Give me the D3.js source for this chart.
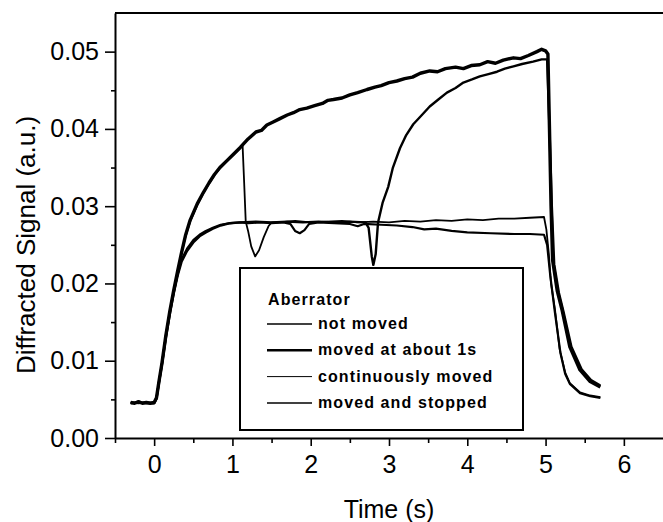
<!DOCTYPE html>
<html>
<head>
<meta charset="utf-8">
<script src="https://cdn.jsdelivr.net/npm/d3@7"></script>
<style>
  body { margin: 0; background: #fff; }
  text { font-family: 'Liberation Sans', Arial, sans-serif; fill: #000; }
</style>
</head>
<body>
<div id="chart"></div>
<script>
// values, [time (s), signal (a.u.)]
let notMoved = [
  [-0.3, 0.0046], [-0.25, 0.0045], [-0.2, 0.0047], [-0.15, 0.0045], [-0.1, 0.0046], [-0.05, 0.0045],
  [0, 0.0046], [0.03, 0.0052], [0.06, 0.0072], [0.1, 0.0097], [0.15, 0.0133], [0.2, 0.0164],
  [0.25, 0.0191], [0.3, 0.0216], [0.35, 0.024], [0.4, 0.0262], [0.46, 0.0282], [0.55, 0.0303],
  [0.63, 0.0318], [0.7, 0.033], [0.77, 0.0341], [0.84, 0.035], [0.92, 0.0358], [1.0, 0.0366],
  [1.1, 0.0376], [1.2, 0.0387], [1.3, 0.0396], [1.37, 0.0398], [1.44, 0.0405], [1.52, 0.0409],
  [1.6, 0.0413], [1.7, 0.0418], [1.78, 0.0421], [1.86, 0.0425], [1.95, 0.0427], [2.05, 0.043],
  [2.15, 0.0433], [2.22, 0.0437], [2.29, 0.0438], [2.4, 0.044], [2.5, 0.0444], [2.6, 0.0447],
  [2.72, 0.0451], [2.82, 0.0454], [2.9, 0.0456], [3.0, 0.046], [3.1, 0.0462], [3.2, 0.0465],
  [3.3, 0.0467], [3.4, 0.0472], [3.52, 0.0475], [3.62, 0.0474], [3.72, 0.0478], [3.85, 0.048],
  [3.95, 0.0478], [4.05, 0.0482], [4.16, 0.0483], [4.26, 0.0487], [4.36, 0.0485], [4.46, 0.0489],
  [4.59, 0.0492], [4.68, 0.0491], [4.78, 0.0495], [4.89, 0.05], [4.95, 0.0503], [5.0, 0.0501],
  [5.03, 0.0497], [5.05, 0.04], [5.07, 0.03], [5.09, 0.023], [5.15, 0.019], [5.21, 0.0166],
  [5.31, 0.0118], [5.44, 0.0088], [5.57, 0.0073], [5.7, 0.0066]
]

let movedAt1s = [
  [-0.3, 0.0045], [-0.2, 0.0046], [-0.1, 0.0045], [0, 0.0046], [0.03, 0.0053], [0.06, 0.0073],
  [0.1, 0.0098], [0.15, 0.0134], [0.2, 0.0164], [0.25, 0.0191], [0.3, 0.0215], [0.35, 0.0239],
  [0.4, 0.026], [0.46, 0.028], [0.55, 0.0301], [0.63, 0.0317], [0.7, 0.0329], [0.77, 0.034],
  [0.84, 0.0349], [0.92, 0.0357], [1.0, 0.0365], [1.1, 0.0375], [1.13, 0.0378], [1.15, 0.033],
  [1.17, 0.028], [1.2, 0.0268], [1.24, 0.0248], [1.29, 0.0235], [1.34, 0.0243], [1.4, 0.026],
  [1.46, 0.0274], [1.5, 0.0279], [1.6, 0.0279], [1.8, 0.0281], [2.0, 0.0279], [2.2, 0.028],
  [2.4, 0.0281], [2.6, 0.0279], [2.8, 0.028], [3.0, 0.0279], [3.2, 0.0281], [3.4, 0.028],
  [3.6, 0.0282], [3.8, 0.0281], [4.0, 0.0283], [4.2, 0.0282], [4.4, 0.0284], [4.6, 0.0284],
  [4.8, 0.0285], [4.98, 0.0286], [5.01, 0.027], [5.04, 0.024], [5.07, 0.02], [5.12, 0.0166],
  [5.18, 0.0115], [5.25, 0.0085], [5.31, 0.0071], [5.44, 0.0059], [5.57, 0.0055], [5.7, 0.0053]
]

let continuouslyMoved = [
  [-0.3, 0.0046], [-0.2, 0.0045], [-0.1, 0.0046], [0, 0.0045], [0.03, 0.0051], [0.06, 0.0071],
  [0.1, 0.0096], [0.15, 0.0131], [0.2, 0.0162], [0.25, 0.0189], [0.3, 0.0212], [0.35, 0.0231],
  [0.42, 0.0245], [0.5, 0.0256], [0.58, 0.0263], [0.66, 0.0268], [0.75, 0.0272], [0.85, 0.0276],
  [0.97, 0.0278], [1.1, 0.0279], [1.2, 0.0278], [1.35, 0.0279], [1.5, 0.0278], [1.65, 0.0279],
  [1.74, 0.0277], [1.8, 0.0268], [1.86, 0.0265], [1.92, 0.0269], [1.98, 0.0277], [2.1, 0.0279],
  [2.3, 0.0278], [2.5, 0.0277], [2.6, 0.0274], [2.68, 0.0277], [2.9, 0.0276], [3.1, 0.0275],
  [3.3, 0.0273], [3.45, 0.027], [3.6, 0.0271], [3.8, 0.0268], [4.0, 0.0266], [4.3, 0.0265],
  [4.6, 0.0264], [4.8, 0.0264], [4.98, 0.0263], [5.02, 0.025], [5.06, 0.021], [5.12, 0.0162],
  [5.19, 0.011], [5.25, 0.0083], [5.31, 0.007], [5.44, 0.0058], [5.57, 0.0054], [5.7, 0.0052]
]

let movedAndStopped = [
  [-0.3, 0.0045], [-0.2, 0.0046], [-0.1, 0.0045], [0, 0.0045], [0.03, 0.0051], [0.06, 0.007],
  [0.1, 0.0095], [0.15, 0.013], [0.2, 0.016], [0.25, 0.0187], [0.3, 0.021], [0.35, 0.0228],
  [0.42, 0.0242], [0.5, 0.0253], [0.58, 0.0261], [0.66, 0.0266], [0.75, 0.0271], [0.85, 0.0275],
  [0.97, 0.0278], [1.1, 0.0279], [1.3, 0.028], [1.5, 0.0279], [1.7, 0.028], [1.9, 0.0279],
  [2.1, 0.028], [2.3, 0.0279], [2.5, 0.028], [2.7, 0.0279], [2.74, 0.0272], [2.78, 0.0235],
  [2.8, 0.0224], [2.83, 0.0238], [2.86, 0.0279], [2.92, 0.0305], [2.99, 0.0325], [3.05, 0.035],
  [3.14, 0.0375], [3.22, 0.0392], [3.31, 0.0406], [3.42, 0.0418], [3.52, 0.0429], [3.63, 0.0438],
  [3.74, 0.0447], [3.85, 0.0453], [3.95, 0.046], [4.06, 0.0464], [4.16, 0.0468], [4.27, 0.0471],
  [4.38, 0.0474], [4.48, 0.0478], [4.59, 0.0481], [4.7, 0.0484], [4.84, 0.0487], [4.95, 0.049],
  [5.02, 0.049], [5.05, 0.04], [5.08, 0.03], [5.11, 0.0225], [5.17, 0.0188], [5.23, 0.0163],
  [5.33, 0.0118], [5.46, 0.0089], [5.58, 0.0075], [5.7, 0.0068]
]

let seriesNames = ['not moved', 'moved at about 1s', 'continuously moved', 'moved and stopped']
let seriesData = [notMoved, movedAt1s, continuouslyMoved, movedAndStopped]
let seriesWidths = [3.4, 1.8, 2.2, 2.4]
let legendWidths = [1.5, 2.5, 1, 1.5]

let xTicks = [0, 1, 2, 3, 4, 5, 6]
let xMinorTicks = [-0.5, 0.5, 1.5, 2.5, 3.5, 4.5, 5.5]
let yTicks = [0, 0.01, 0.02, 0.03, 0.04, 0.05]
let yMinorTicks = [0.005, 0.015, 0.025, 0.035, 0.045]

let margin = { top: 13, left: 115, right: 0, bottom: 84 }
let width = 663 - margin.left - margin.right
let height = 522 - margin.top - margin.bottom

let svg = d3
  .select('#chart')
  .append('svg')
  .attr('width', width + margin.left + margin.right)
  .attr('height', height + margin.top + margin.bottom)
  .append('g')
  .attr('transform', 'translate(' + margin.left + ',' + margin.top + ')')

let x = d3.scaleLinear().domain([-0.5, 6.5]).range([0, width])
let y = d3.scaleLinear().domain([0, 0.055]).range([height, 0])

let line = d3
  .line()
  .x(d => x(d[0]))
  .y(d => y(d[1]))

svg
  .selectAll('.trace')
  .data(seriesData)
  .enter()
  .append('path')
  .attr('class', 'trace')
  .attr('d', line)
  .attr('fill', 'none')
  .attr('stroke', 'black')
  .attr('stroke-linejoin', 'round')
  .attr('stroke-width', (d, i) => seriesWidths[i])

// axes
let xAxis = svg
  .append('g')
  .attr('transform', 'translate(0,' + height + ')')
  .call(d3.axisBottom(x).tickValues(xTicks).tickSize(8).tickSizeOuter(0).tickPadding(9).tickFormat(d3.format('d')))

let xMinor = svg
  .append('g')
  .attr('transform', 'translate(0,' + height + ')')
  .call(d3.axisBottom(x).tickValues(xMinorTicks).tickSize(5).tickSizeOuter(0).tickFormat(''))

let yAxis = svg
  .append('g')
  .call(d3.axisLeft(y).tickValues(yTicks).tickSize(10).tickSizeOuter(0).tickPadding(6).tickFormat(d3.format('.2f')))

let yMinor = svg
  .append('g')
  .call(d3.axisLeft(y).tickValues(yMinorTicks).tickSize(4).tickSizeOuter(0).tickFormat(''))

svg.selectAll('.domain').attr('stroke-width', 2)
svg.selectAll('.tick line').attr('stroke-width', 1.6)
svg.selectAll('.tick text').style('font-size', '25px').attr('fill', 'black')
xMinor.select('.domain').remove()
yMinor.select('.domain').remove()

// top frame line
svg
  .append('line')
  .attr('x1', 0)
  .attr('x2', width)
  .attr('y1', 0)
  .attr('y2', 0)
  .attr('stroke', 'black')
  .attr('stroke-width', 2)

svg
  .append('text')
  .attr('x', x(3))
  .attr('y', height + 80)
  .attr('text-anchor', 'middle')
  .style('font-size', '25px')
  .text('Time (s)')

svg
  .append('text')
  .attr('transform', 'translate(' + (35 - margin.left) + ',' + (245 - margin.top) + ') rotate(-90)')
  .attr('text-anchor', 'middle')
  .style('font-size', '26px')
  .text('Diffracted Signal (a.u.)')

// legend
let legend = svg.append('g').attr('transform', 'translate(' + (240 - margin.left) + ',' + (268 - margin.top) + ')')

legend
  .append('rect')
  .attr('width', 283)
  .attr('height', 162)
  .attr('fill', 'white')
  .attr('stroke', 'black')
  .attr('stroke-width', 2)

legend
  .append('text')
  .attr('x', 28)
  .attr('y', 37)
  .style('font-size', '16px')
  .style('font-weight', 'bold')
  .style('letter-spacing', '1.1px')
  .text('Aberrator')

let rows = legend
  .selectAll('.row')
  .data(seriesNames)
  .enter()
  .append('g')
  .attr('class', 'row')
  .attr('transform', (d, i) => 'translate(0,' + (61 + i * 26.3) + ')')

rows
  .append('line')
  .attr('x1', 27)
  .attr('x2', 72)
  .attr('y1', -5)
  .attr('y2', -5)
  .attr('stroke', 'black')
  .attr('stroke-width', (d, i) => legendWidths[i])

rows
  .append('text')
  .attr('x', 78)
  .attr('y', 0)
  .style('font-size', '16px')
  .style('font-weight', 'bold')
  .style('letter-spacing', '1.1px')
  .text(d => d)
</script>
</body>
</html>
